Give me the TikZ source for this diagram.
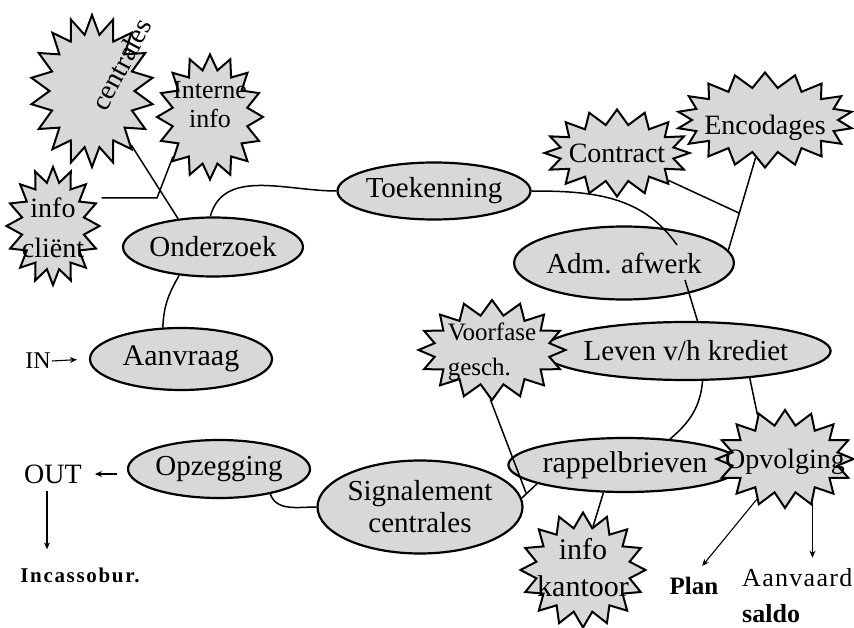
\documentclass[tikz,border=0pt]{standalone}
\usepackage{fontspec}
\setmainfont{Liberation Serif}
\usetikzlibrary{shapes.geometric,shapes.symbols,arrows.meta,calc}
\definecolor{shade}{RGB}{216,216,216}
\begin{document}
\begin{tikzpicture}[x=1pt,y=-1pt,
  ell/.style={ellipse,draw,line width=2.2pt,fill=shade,inner sep=0pt,font=\fontsize{29}{32}\selectfont},
  burst/.style={starburst,random starburst=0,draw,line width=2pt,fill=shade,inner sep=0pt,
     starburst points=16,starburst point height=15pt},
  starlab/.style={align=center,inner sep=0pt,font=\fontsize{28}{32}\selectfont},
  conn/.style={line width=1.5pt},
  arr/.style={line width=1.1pt,-{Stealth[length=7pt,width=6pt]}},
  lab/.style={inner sep=1pt}]
\useasboundingbox (0,0) rectangle (854,628);

% ellipses
\node[ell,minimum width=182pt,minimum height=62pt,font=\fontsize{30}{32}\selectfont] (aanv) at (181,359) {Aanvraag};
\node[ell,minimum width=170pt,minimum height=59pt] (ond) at (213,247) {Onderzoek};
\node[ell,minimum width=181pt,minimum height=57pt] (toek) at (434,191) {Toekenning};
\node[ell,minimum width=182pt,minimum height=73pt] (adm) at (624,263) {Adm. afwerk};
\node[ell,minimum width=232pt,minimum height=58pt] (lev) at (686,351) {Leven v/h krediet};
\node[ell,minimum width=180pt,minimum height=54pt,font=\fontsize{30}{32}\selectfont] (rap) at (625,465) {rappelbrieven};
\node[ell,minimum width=186pt,minimum height=93pt,align=center] (sig) at (420,507) {Signalement\\centrales};
\node[ell,minimum width=182pt,minimum height=58pt] (opz) at (219,469) {Opzegging};

% stars
\node[burst,minimum width=123pt,minimum height=152pt,starburst points=18,starburst point height=19pt] (cen) at (92,91) {};
\node[rotate=62,font=\fontsize{28}{30}\selectfont,inner sep=0pt] (centxt) at (121,64) {centrales};
\node[burst,minimum width=106pt,minimum height=125pt,
  label={[starlab,font=\fontsize{26}{29}\selectfont,yshift=12pt]center:Interne\\info}] (int) at (210,117) {};
\node[burst,minimum width=93pt,minimum height=118pt,
  label={[starlab,font=\fontsize{28}{40}\selectfont,yshift=-2pt]center:info\\cliënt}] (cli) at (53,226) {};
\node[burst,minimum width=145pt,minimum height=87pt,
  label={[starlab]center:Contract}] (con) at (617,153) {};
\node[burst,minimum width=176pt,minimum height=95pt,starburst points=18,
  label={[starlab,yshift=-8pt]center:Encodages}] (enc) at (765,120) {};
\node[burst,minimum width=147pt,minimum height=100pt,
  label={[starlab,align=left,font=\fontsize{25}{35}\selectfont,yshift=-2pt]center:Voorfase\\gesch.}] (voor) at (492,350) {};
\node[burst,minimum width=137pt,minimum height=98pt,
  label={[starlab,yshift=-3pt]center:Opvolging}] (opv) at (785,459) {};
\node[burst,minimum width=125pt,minimum height=115pt,
  label={[starlab,font=\fontsize{30}{37}\selectfont,yshift=2pt]center:info\\kantoor}] (ik) at (583,570) {};

% free labels
\node[lab,font=\fontsize{24}{24}\selectfont] (in) at (38,361) {IN};
\node[lab,font=\fontsize{28}{28}\selectfont] (out) at (53,474) {OUT};
\node[lab,font=\bfseries\fontsize{21}{21}\selectfont\addfontfeature{LetterSpace=8}] (inc) at (80,575) {Incassobur.};
\node[lab,font=\bfseries\fontsize{25}{25}\selectfont] (plan) at (694,586) {Plan};
\node[lab,anchor=west,font=\fontsize{26}{26}\selectfont\addfontfeature{LetterSpace=5}] (aanvd) at (741,578) {Aanvaard};
\node[lab,anchor=west,font=\bfseries\fontsize{26}{26}\selectfont] (saldo) at (741,614) {saldo};

% connectors
\draw[conn] (cen.-54) -- (ond.141);
\coordinate (bend) at (157,198);
\draw[conn] (int.-133) -- (bend) -- (bend -| cli.east);
\draw[conn] (ond.95) to[out=75,in=180] (toek.west);
\coordinate (admin) at (677,245);
\draw[conn] (toek.east) to[out=0,in=125] (admin);
\draw[conn] ($(adm.center)+(61,17)$) -- (lev.69);
\draw[conn] (enc.-104) -- (adm.7);
\coordinate (j1) at ($(enc.-104)!0.6!(adm.7)$);
\draw[conn] (con.-28) -- (j1);
\draw[conn] (lev.-61) to[out=-95,in=40] (rap.30);
\draw[conn] (lev.-23) -- (opv.122);
\draw[conn] (rap.192) -- (sig.5);
\coordinate (j2) at ($(rap.192)!0.7!(sig.5)$);
\draw[conn] (voor.-92) -- (j2);
\draw[conn] (rap.-128) -- (ik.77);
\draw[conn] (opz.-26) to[out=-70,in=180] (sig.west);
\draw[conn] (aanv.120) to[out=88,in=-120] (ond.-140);

% arrows
\draw[arr,shorten >=13pt] (opv.-125) -- (plan.north);
\draw[arr,shorten >=10pt] (opv.-58) -- (opv.-58 |- aanvd.north);
\draw[arr,shorten <=10pt,shorten >=12pt] (out.east -| opz.west) -- (out.east);
\coordinate (od) at ($(out.south)+(-6,6)$);
\draw[arr,shorten >=17pt] (od) -- (od |- inc.north);
\draw[arr,shorten >=12pt] (in.east) -- (aanv.west);
\end{tikzpicture}
\end{document}
